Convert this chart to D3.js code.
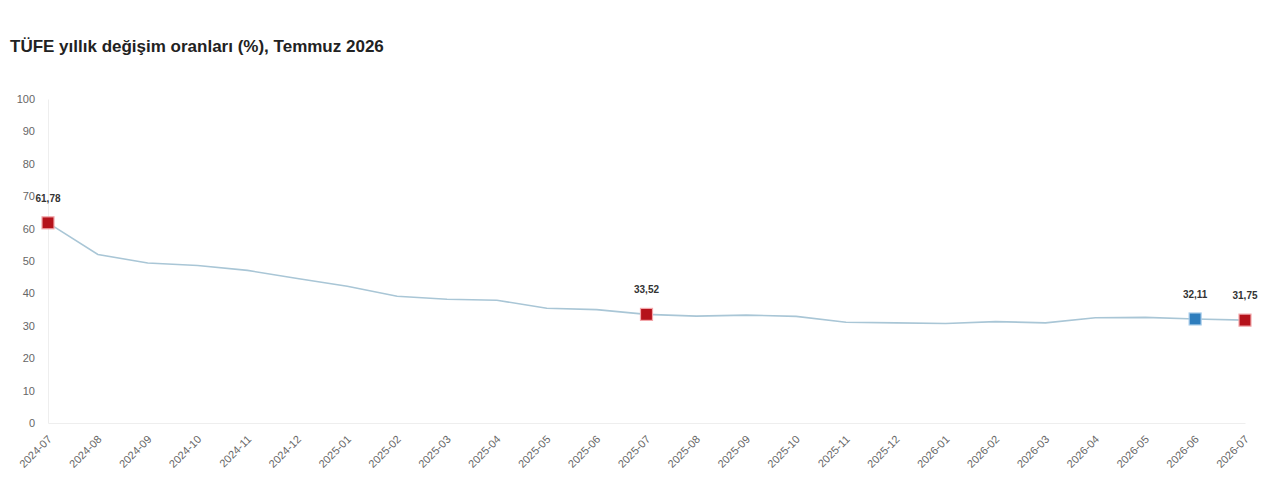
<!DOCTYPE html>
<html>
<head>
<meta charset="utf-8">
<script src="https://cdn.jsdelivr.net/npm/d3@7"></script>
<style>
  body { margin: 0; background: #fff; }
  text { font-family: "Liberation Sans", Arial, sans-serif; }
</style>
</head>
<body>
<svg id="chart" width="1280" height="492"></svg>
<script>
// aylar ve yillik degisim oranlari
var months = ["2024-07","2024-08","2024-09","2024-10","2024-11","2024-12",
  "2025-01","2025-02","2025-03","2025-04","2025-05","2025-06",
  "2025-07","2025-08","2025-09","2025-10","2025-11","2025-12",
  "2026-01","2026-02","2026-03","2026-04","2026-05","2026-06","2026-07"];
var rates = [61.78, 52.0, 49.4, 48.6, 47.1, 44.6,
  42.2, 39.1, 38.2, 37.9, 35.4, 35.0,
  33.52, 33.0, 33.3, 32.9, 31.1, 30.9,
  30.7, 31.3, 30.9, 32.5, 32.6, 32.11, 31.75];
var yTicks = [0, 10, 20, 30, 40, 50, 60, 70, 80, 90, 100];
// isaretli noktalar: ay, renk
var marked = [
  { m: "2024-07", color: "#b5121b", halo: "#f2a7ab" },
  { m: "2025-07", color: "#b5121b", halo: "#f2a7ab" },
  { m: "2026-06", color: "#2d7dbd", halo: "#a9cdea" },
  { m: "2026-07", color: "#b5121b", halo: "#f2a7ab" }
];

var svg = d3.select("#chart");
var padL = 48, padR = 1245, padT = 99, padB = 423;

var x = d3.scalePoint().domain(months).range([padL, padR]);
var y = d3.scaleLinear().domain([0, 100]).range([padB, padT]);

svg.append("text")
  .attr("x", 10).attr("y", 52)
  .attr("font-size", 17).attr("font-weight", "bold").attr("fill", "#222")
  .text("TÜFE yıllık değişim oranları (%), Temmuz 2026");

// y ekseni
var yAxis = svg.append("g")
  .attr("transform", "translate(" + padL + ",0)")
  .call(d3.axisLeft(y).tickValues(yTicks).tickSize(0).tickPadding(13));
yAxis.select(".domain").attr("stroke", "#eeeeee");
yAxis.selectAll("text").attr("font-size", 11).attr("fill", "#666")
  .attr("font-family", "Liberation Sans, Arial, sans-serif");

// x ekseni
var xAxis = svg.append("g")
  .attr("transform", "translate(0," + padB + ")")
  .call(d3.axisBottom(x).tickSize(0).tickPadding(0));
xAxis.select(".domain").attr("stroke", "#eeeeee");
xAxis.selectAll("text")
  .attr("font-size", 11).attr("fill", "#666")
  .attr("font-family", "Liberation Sans, Arial, sans-serif")
  .attr("text-anchor", "end")
  .attr("dy", 0)
  .attr("transform", "translate(4,17) rotate(-45)");

// cizgi
var line = d3.line()
  .x(function(d, i) { return x(months[i]); })
  .y(function(d) { return y(d); });

svg.append("path")
  .datum(rates)
  .attr("fill", "none")
  .attr("stroke", "#a9c6d6")
  .attr("stroke-width", 1.6)
  .attr("d", line);

// isaretler ve etiketler
var fmt = function(v) { return v.toFixed(2).replace(".", ","); };
var pts = svg.selectAll("g.pt").data(marked).enter().append("g").attr("class", "pt")
  .attr("transform", function(d) {
    return "translate(" + x(d.m) + "," + y(rates[months.indexOf(d.m)]) + ")";
  });
pts.append("rect")
  .attr("x", -6).attr("y", -6).attr("width", 12).attr("height", 12)
  .attr("fill", function(d) { return d.color; })
  .attr("stroke", function(d) { return d.halo; })
  .attr("stroke-width", 1.2);
pts.append("text")
  .attr("y", -21)
  .attr("text-anchor", "middle")
  .attr("font-size", 10).attr("font-weight", "bold").attr("fill", "#333")
  .text(function(d) { return fmt(rates[months.indexOf(d.m)]); });
</script>
</body>
</html>
